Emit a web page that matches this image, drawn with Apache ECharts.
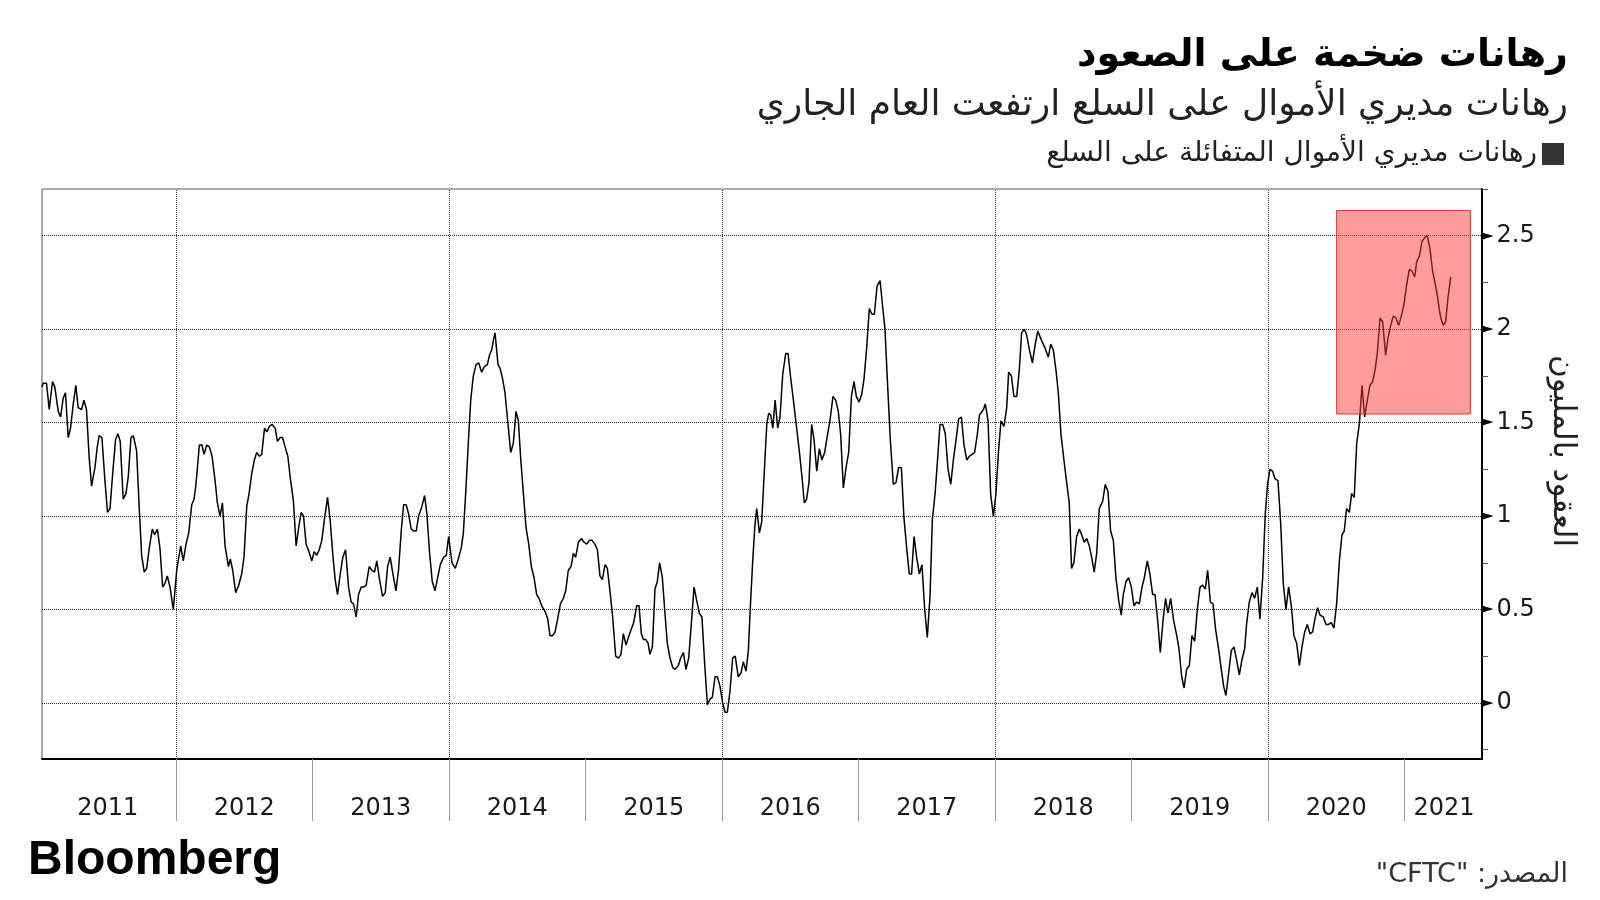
<!DOCTYPE html>
<html>
<head>
<meta charset="utf-8">
<script src="https://cdn.jsdelivr.net/npm/echarts@6/dist/echarts.min.js"></script>
<style>html,body{margin:0;padding:0;background:#fff;}#chart{width:1600px;height:900px;}</style>
</head>
<body>
<div id="chart"></div>
<script>
// ---- Texts ----
const titleText = 'رهانات ضخمة على الصعود';
const subtitleText = 'رهانات مديري الأموال على السلع ارتفعت العام الجاري';
const legendText = 'رهانات مديري الأموال المتفائلة على السلع';
const yAxisName = 'العقود بالمليون';
const sourceText = '"CFTC" :المصدر';
const brandText = 'Bloomberg';

// ---- Axis ticks / labels ----
const xMin = 2011.018, xMax = 2021.568;
const yMin = -0.3, yMax = 2.75;
const yearBreaks = [2012, 2013, 2014, 2015, 2016, 2017, 2018, 2019, 2020, 2021];
const yearLabelPos = [2011.5, 2012.5, 2013.5, 2014.5, 2015.5, 2016.5, 2017.5, 2018.5, 2019.5, 2020.5, 2021.29];
const xGridYears = [2012, 2014, 2016, 2018, 2020];
const yLabelValues = [0, 0.5, 1, 1.5, 2, 2.5];
const yTickValues = [-0.25, 0, 0.25, 0.5, 0.75, 1, 1.25, 1.5, 1.75, 2, 2.25, 2.5, 2.75];

// ---- Highlight box (time span and value range) ----
const boxStart = 2020.503, boxEnd = 2021.483, boxLow = 1.546, boxHigh = 2.635;

// ---- Series: [decimal year, contracts in millions] ----
const seg2011_2013 = [[2011.018,1.69],[2011.027,1.71],[2011.051,1.71],[2011.071,1.57],[2011.095,1.72],[2011.112,1.69],[2011.137,1.56],[2011.154,1.53],[2011.173,1.63],[2011.190,1.66],[2011.210,1.42],[2011.227,1.47],[2011.247,1.60],[2011.266,1.70],[2011.283,1.58],[2011.308,1.57],[2011.325,1.62],[2011.344,1.57],[2011.364,1.31],[2011.381,1.16],[2011.406,1.26],[2011.423,1.37],[2011.437,1.43],[2011.457,1.42],[2011.479,1.19],[2011.498,1.02],[2011.516,1.04],[2011.535,1.22],[2011.557,1.41],[2011.574,1.44],[2011.591,1.40],[2011.613,1.09],[2011.633,1.12],[2011.650,1.21],[2011.670,1.42],[2011.687,1.43],[2011.711,1.35],[2011.728,1.08],[2011.748,0.79],[2011.767,0.70],[2011.785,0.72],[2011.804,0.83],[2011.826,0.93],[2011.843,0.90],[2011.863,0.93],[2011.882,0.83],[2011.902,0.62],[2011.919,0.64],[2011.936,0.68],[2011.956,0.62],[2011.980,0.50],[2012.005,0.71],[2012.034,0.84],[2012.053,0.76],[2012.073,0.85],[2012.093,0.91],[2012.115,1.06],[2012.132,1.09],[2012.146,1.17],[2012.171,1.38],[2012.190,1.38],[2012.205,1.33],[2012.225,1.38],[2012.244,1.37],[2012.264,1.32],[2012.286,1.19],[2012.303,1.07],[2012.322,1.00],[2012.340,1.07],[2012.359,0.84],[2012.384,0.73],[2012.398,0.77],[2012.415,0.71],[2012.437,0.59],[2012.459,0.63],[2012.481,0.69],[2012.498,0.78],[2012.518,1.05],[2012.535,1.12],[2012.555,1.23],[2012.574,1.30],[2012.591,1.34],[2012.611,1.32],[2012.628,1.33],[2012.648,1.47],[2012.665,1.45],[2012.684,1.48],[2012.704,1.49],[2012.726,1.47],[2012.743,1.40],[2012.763,1.42],[2012.780,1.42],[2012.799,1.37],[2012.819,1.32],[2012.836,1.21],[2012.860,1.08],[2012.880,0.84],[2012.899,0.94],[2012.917,1.02],[2012.934,1.00],[2012.953,0.85],[2012.973,0.81],[2012.995,0.76],[2013.012,0.81],[2013.031,0.79],[2013.049,0.82],[2013.068,0.87],[2013.085,0.97],[2013.110,1.10],[2013.129,0.98],[2013.149,0.79],[2013.166,0.66],[2013.183,0.58],[2013.203,0.69],[2013.222,0.78],[2013.242,0.82],[2013.264,0.62],[2013.283,0.54],[2013.300,0.53],[2013.320,0.46],[2013.337,0.58],[2013.357,0.62],[2013.374,0.62],[2013.393,0.63],[2013.415,0.73],[2013.435,0.71],[2013.454,0.70],[2013.471,0.76],[2013.491,0.66],[2013.513,0.57],[2013.533,0.59],[2013.550,0.73],[2013.569,0.78],[2013.589,0.69],[2013.611,0.60],[2013.630,0.71],[2013.650,0.92],[2013.667,1.06],[2013.687,1.06],[2013.704,1.01],[2013.723,0.93],[2013.740,0.92],[2013.760,0.92],[2013.777,1.00],[2013.797,1.04],[2013.821,1.11],[2013.838,1.01],[2013.858,0.80],[2013.877,0.65],[2013.897,0.60],[2013.917,0.67],[2013.936,0.74],[2013.961,0.78],[2013.980,0.79],[2013.997,0.89]];

const seg2014_2016 = [[2014.007,0.90],[2014.022,0.75],[2014.046,0.72],[2014.068,0.77],[2014.090,0.83],[2014.105,0.91],[2014.122,1.12],[2014.142,1.40],[2014.159,1.62],[2014.178,1.75],[2014.198,1.81],[2014.217,1.82],[2014.239,1.77],[2014.259,1.80],[2014.281,1.81],[2014.296,1.86],[2014.313,1.89],[2014.325,1.94],[2014.337,1.98],[2014.359,1.81],[2014.374,1.79],[2014.391,1.74],[2014.410,1.66],[2014.427,1.53],[2014.452,1.34],[2014.471,1.39],[2014.491,1.56],[2014.508,1.51],[2014.525,1.31],[2014.545,1.12],[2014.564,0.94],[2014.584,0.85],[2014.603,0.73],[2014.623,0.67],[2014.642,0.58],[2014.659,0.56],[2014.679,0.52],[2014.703,0.49],[2014.723,0.45],[2014.740,0.36],[2014.759,0.36],[2014.777,0.38],[2014.796,0.45],[2014.816,0.53],[2014.838,0.56],[2014.855,0.60],[2014.874,0.71],[2014.894,0.73],[2014.911,0.80],[2014.928,0.78],[2014.948,0.86],[2014.970,0.88],[2014.989,0.86],[2015.009,0.85],[2015.028,0.87],[2015.048,0.87],[2015.069,0.85],[2015.087,0.82],[2015.106,0.68],[2015.123,0.66],[2015.143,0.74],[2015.160,0.72],[2015.179,0.60],[2015.199,0.46],[2015.221,0.25],[2015.241,0.24],[2015.260,0.26],[2015.277,0.37],[2015.297,0.31],[2015.314,0.35],[2015.333,0.39],[2015.353,0.43],[2015.375,0.52],[2015.392,0.52],[2015.409,0.37],[2015.424,0.34],[2015.441,0.34],[2015.458,0.32],[2015.472,0.26],[2015.490,0.30],[2015.509,0.61],[2015.526,0.65],[2015.543,0.75],[2015.563,0.67],[2015.582,0.48],[2015.599,0.32],[2015.619,0.24],[2015.639,0.19],[2015.656,0.18],[2015.680,0.20],[2015.697,0.24],[2015.717,0.27],[2015.736,0.18],[2015.756,0.24],[2015.778,0.45],[2015.795,0.62],[2015.814,0.55],[2015.834,0.48],[2015.853,0.46],[2015.873,0.21],[2015.893,-0.01],[2015.912,0.02],[2015.929,0.03],[2015.949,0.14],[2015.966,0.14],[2015.985,0.09],[2016.005,0.00],[2016.022,-0.05],[2016.039,-0.05],[2016.058,0.06],[2016.078,0.24],[2016.097,0.25],[2016.119,0.14],[2016.139,0.16],[2016.156,0.22],[2016.176,0.17],[2016.193,0.28],[2016.210,0.55],[2016.225,0.76],[2016.240,0.94],[2016.254,1.04],[2016.274,0.91],[2016.291,0.97],[2016.308,1.21],[2016.328,1.49],[2016.342,1.55],[2016.357,1.54],[2016.372,1.47],[2016.389,1.62],[2016.408,1.47],[2016.425,1.53],[2016.445,1.76],[2016.467,1.87],[2016.484,1.87],[2016.503,1.74],[2016.523,1.62],[2016.547,1.47]];

const seg2016_2018 = [[2016.566,1.35],[2016.586,1.21],[2016.603,1.07],[2016.620,1.09],[2016.637,1.18],[2016.657,1.49],[2016.674,1.41],[2016.694,1.24],[2016.713,1.36],[2016.732,1.30],[2016.752,1.34],[2016.772,1.43],[2016.791,1.51],[2016.813,1.64],[2016.833,1.62],[2016.852,1.56],[2016.869,1.44],[2016.889,1.15],[2016.909,1.26],[2016.928,1.34],[2016.948,1.64],[2016.967,1.72],[2016.984,1.64],[2017.004,1.61],[2017.023,1.65],[2017.040,1.73],[2017.060,1.90],[2017.079,2.11],[2017.099,2.08],[2017.116,2.08],[2017.136,2.23],[2017.158,2.26],[2017.177,2.12],[2017.194,2.00],[2017.214,1.69],[2017.233,1.41],[2017.255,1.17],[2017.275,1.18],[2017.294,1.26],[2017.314,1.26],[2017.333,0.99],[2017.353,0.83],[2017.372,0.69],[2017.389,0.69],[2017.407,0.89],[2017.426,0.78],[2017.446,0.69],[2017.465,0.74],[2017.485,0.50],[2017.504,0.35],[2017.524,0.57],[2017.541,0.98],[2017.561,1.12],[2017.580,1.31],[2017.597,1.49],[2017.617,1.49],[2017.636,1.44],[2017.656,1.25],[2017.676,1.17],[2017.695,1.30],[2017.715,1.41],[2017.734,1.52],[2017.754,1.53],[2017.773,1.38],[2017.793,1.30],[2017.812,1.32],[2017.832,1.33],[2017.851,1.34],[2017.871,1.44],[2017.886,1.54],[2017.900,1.53],[2017.915,1.57],[2017.929,1.60],[2017.949,1.51],[2017.968,1.12],[2017.988,1.00],[2018.007,1.12],[2018.025,1.34],[2018.044,1.51],[2018.066,1.48],[2018.086,1.58],[2018.100,1.77],[2018.120,1.75],[2018.139,1.64],[2018.159,1.64],[2018.178,1.78],[2018.195,1.98],[2018.215,2.00],[2018.232,1.97],[2018.252,1.89],[2018.274,1.82],[2018.293,1.91],[2018.313,1.99],[2018.330,1.96],[2018.347,1.93],[2018.366,1.90],[2018.391,1.85],[2018.408,1.92],[2018.427,1.89],[2018.447,1.78],[2018.464,1.66],[2018.483,1.44],[2018.505,1.30],[2018.525,1.18],[2018.544,1.07],[2018.561,0.72],[2018.578,0.75],[2018.598,0.89],[2018.618,0.93],[2018.635,0.90],[2018.654,0.86],[2018.672,0.88],[2018.691,0.84],[2018.708,0.78],[2018.727,0.70],[2018.745,0.80],[2018.764,1.04]];

const seg2018_2020 = [[2018.789,1.08],[2018.808,1.17],[2018.828,1.13],[2018.847,0.92],[2018.867,0.87],[2018.886,0.67],[2018.906,0.55],[2018.925,0.47],[2018.940,0.58],[2018.960,0.65],[2018.979,0.67],[2018.999,0.62],[2019.018,0.52],[2019.038,0.54],[2019.057,0.53],[2019.077,0.62],[2019.094,0.67],[2019.116,0.76],[2019.135,0.69],[2019.155,0.58],[2019.172,0.58],[2019.192,0.44],[2019.211,0.27],[2019.231,0.44],[2019.250,0.56],[2019.267,0.48],[2019.287,0.56],[2019.309,0.44],[2019.329,0.37],[2019.348,0.29],[2019.368,0.14],[2019.385,0.08],[2019.404,0.18],[2019.424,0.20],[2019.443,0.36],[2019.463,0.33],[2019.482,0.50],[2019.502,0.62],[2019.521,0.63],[2019.541,0.61],[2019.558,0.71],[2019.578,0.54],[2019.597,0.53],[2019.617,0.39],[2019.636,0.30],[2019.656,0.19],[2019.675,0.09],[2019.692,0.04],[2019.712,0.16],[2019.731,0.28],[2019.751,0.30],[2019.770,0.23],[2019.790,0.15],[2019.809,0.23],[2019.829,0.29],[2019.843,0.42],[2019.863,0.54],[2019.883,0.59],[2019.902,0.56],[2019.922,0.62],[2019.941,0.45],[2019.961,0.67],[2019.980,1.01],[2019.997,1.17],[2020.014,1.25],[2020.034,1.24],[2020.051,1.20],[2020.073,1.19],[2020.093,0.96],[2020.112,0.64],[2020.132,0.50],[2020.151,0.62],[2020.171,0.52],[2020.190,0.36],[2020.210,0.32],[2020.230,0.20],[2020.249,0.30],[2020.269,0.38],[2020.288,0.42],[2020.308,0.37],[2020.327,0.38],[2020.347,0.46],[2020.364,0.51],[2020.381,0.47],[2020.405,0.46],[2020.425,0.42],[2020.444,0.42],[2020.464,0.43],[2020.483,0.40],[2020.503,0.53],[2020.523,0.76],[2020.542,0.90],[2020.559,0.92],[2020.576,1.04],[2020.596,1.02],[2020.613,1.12],[2020.632,1.10],[2020.650,1.39],[2020.669,1.49]];

const seg2020_2021 = [[2020.689,1.70],[2020.708,1.53],[2020.728,1.62],[2020.747,1.70],[2020.767,1.72],[2020.784,1.78],[2020.801,1.87],[2020.821,2.06],[2020.840,2.04],[2020.862,1.86],[2020.879,1.95],[2020.899,2.02],[2020.918,2.07],[2020.938,2.06],[2020.957,2.02],[2020.977,2.07],[2020.996,2.13],[2021.016,2.24],[2021.036,2.32],[2021.055,2.31],[2021.075,2.28],[2021.089,2.36],[2021.109,2.39],[2021.128,2.47],[2021.148,2.49],[2021.167,2.50],[2021.187,2.43],[2021.206,2.31],[2021.226,2.24],[2021.241,2.18],[2021.256,2.10],[2021.270,2.05],[2021.285,2.02],[2021.302,2.04],[2021.319,2.17],[2021.339,2.28]];

const seriesData = [].concat(seg2011_2013, seg2014_2016, seg2016_2018, seg2018_2020, seg2020_2021);

const FONT = '"DejaVu Sans", sans-serif';
const chart = echarts.init(document.getElementById('chart'), null, {renderer: 'canvas'});

const option = {
  animation: false,
  backgroundColor: '#ffffff',
  grid: {left: 42, right: 118, top: 189, bottom: 141, show: true, borderColor: '#555', borderWidth: 1},
  xAxis: {
    type: 'value', min: xMin, max: xMax,
    axisLine: {show: true, onZero: false, lineStyle: {color: '#000', width: 2}},
    axisTick: {show: true, customValues: yearBreaks, length: 62, inside: false, lineStyle: {color: '#999', width: 1}},
    axisLabel: {customValues: yearLabelPos, formatter: v => String(Math.floor(v)), fontFamily: FONT, fontSize: 24, color: '#1a1a1a', margin: 37, lineHeight: 26},
    splitLine: {show: false}
  },
  yAxis: {
    type: 'value', position: 'right', min: yMin, max: yMax,
    axisLine: {show: true, onZero: false, lineStyle: {color: '#000', width: 2}},
    axisTick: {show: true, customValues: yTickValues, length: 6, inside: false, lineStyle: {color: '#555', width: 1}},
    axisLabel: {
      customValues: yLabelValues, margin: 0,
      formatter: v => '{t|►}{n|' + v + '}',
      rich: {t: {fontFamily: FONT, fontSize: 15, color: '#000', padding: [0, 3, 0, 0]}, n: {fontFamily: FONT, fontSize: 24, color: '#1a1a1a'}}
    },
    splitLine: {show: false}
  },
  series: [{
    type: 'line', data: seriesData, showSymbol: false, symbol: 'none', z: 3,
    lineStyle: {color: '#000', width: 1.5},
    markLine: {
      silent: true, symbol: 'none', z: 1, label: {show: false},
      lineStyle: {type: 'dotted', color: '#333', width: 1},
      emphasis: {disabled: true},
      data: yLabelValues.map(v => ({yAxis: v})).concat(xGridYears.map(v => ({xAxis: v})))
    },
    markArea: {
      silent: true, z: 10,
      itemStyle: {color: 'rgba(255,60,60,0.5)', borderColor: 'rgba(215,35,35,0.9)', borderWidth: 1},
      emphasis: {disabled: true},
      data: [[{xAxis: boxStart, yAxis: boxHigh}, {xAxis: boxEnd, yAxis: boxLow}]]
    }
  }],
  graphic: [
    {type: 'text', x: 1568, y: 56, style: {text: titleText, font: 'bold 38px ' + FONT, fill: '#000', align: 'right', verticalAlign: 'middle', textAlign: 'right', textVerticalAlign: 'middle'}},
    {type: 'text', x: 1568, y: 106, style: {text: subtitleText, font: '36px ' + FONT, fill: '#222', align: 'right', verticalAlign: 'middle', textAlign: 'right', textVerticalAlign: 'middle'}},
    {type: 'rect', shape: {x: 1542, y: 143, width: 22, height: 22}, style: {fill: '#333'}},
    {type: 'text', x: 1537, y: 154, style: {text: legendText, font: '28px ' + FONT, fill: '#222', align: 'right', verticalAlign: 'middle', textAlign: 'right', textVerticalAlign: 'middle'}},
    {type: 'text', x: 1562, y: 451, rotation: -Math.PI / 2, style: {text: yAxisName, font: '31px ' + FONT, fill: '#222', align: 'center', verticalAlign: 'middle', textAlign: 'center', textVerticalAlign: 'middle'}},
    {type: 'text', x: 28, y: 861, style: {text: brandText, font: 'bold 48px "Liberation Sans", Arial, sans-serif', fill: '#000', align: 'left', verticalAlign: 'middle', textAlign: 'left', textVerticalAlign: 'middle'}},
    {type: 'text', x: 1568, y: 875, style: {text: sourceText, font: '27px ' + FONT, fill: '#333', align: 'right', verticalAlign: 'middle', textAlign: 'right', textVerticalAlign: 'middle'}}
  ]
};
chart.setOption(option);
</script>
</body>
</html>
